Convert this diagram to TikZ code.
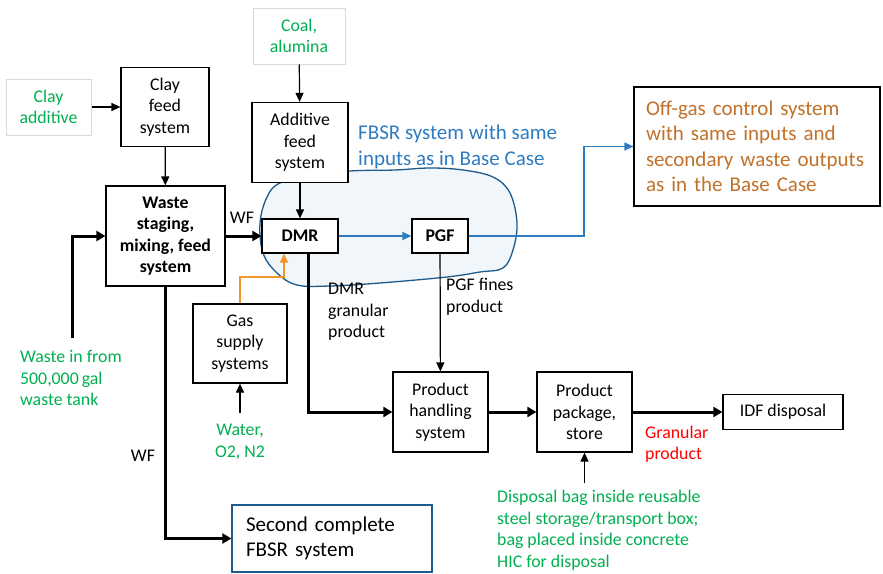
\documentclass[tikz,border=0pt]{standalone}
\usepackage{fontspec}
\setmainfont{Carlito}
\usetikzlibrary{arrows.meta}

\definecolor{ingreen}{HTML}{00B050}
\definecolor{outred}{HTML}{FF0000}
\definecolor{gasorange}{HTML}{F0962C}
\definecolor{offbrown}{HTML}{C0722A}
\definecolor{fbsrblue}{HTML}{2E7BC0}
\definecolor{blobline}{HTML}{1F5A8A}
\definecolor{blobfill}{HTML}{F1F6FB}
\definecolor{inbox}{HTML}{D9D9D9}

\newcommand{\boxtext}{\fontsize{17.8}{21.5}\selectfont}
\newcommand{\bigtext}{\fontsize{21}{25.5}\selectfont}

\begin{document}
\begin{tikzpicture}[x=1pt, y=-1pt,
		box/.style={draw, fill=white, line width=1.2pt, align=center, inner sep=0pt, font=\boxtext},
		inputbox/.style={draw=inbox, fill=white, line width=1pt, align=center, inner sep=0pt, font=\boxtext, text=ingreen},
		note/.style={align=left, inner sep=0pt, anchor=west, font=\boxtext},
		flow/.style={line width=1.2pt, -{Triangle[length=9pt, width=8pt]}},
		thickflow/.style={line width=3pt, -{Triangle[length=9pt, width=10pt]}}]
	\useasboundingbox (0,0) rectangle (883,573);
	
	% FBSR cloud
	\filldraw[fill=blobfill, draw=blobline, line width=1.3pt] plot [smooth cycle, tension=0.6] coordinates {(280,183) (313,176) (350,171) (395,170) (430,168) (463,170) (493,177) (510,193) (517,223) (513,250) (503,268) (480,272) (447,277) (380,283) (330,286) (297,285) (277,273) (263,253) (260,223) (267,197)};
	\node[note, font=\bigtext, text=fbsrblue] (fbsrlabel) at (358,147) {FBSR system with same\\inputs as in Base Case};
	
	% boxes
	\node[inputbox, minimum width=85pt, minimum height=56pt] (clayadd) at (48.5,107) {Clay\\additive};
	\node[box, minimum width=88pt, minimum height=79pt] (clayfeed) at (165,107) {Clay\\feed\\system};
	\node[inputbox, minimum width=92pt, minimum height=56pt] (coal) at (299,36) {Coal,\\alumina};
	\node[box, minimum width=96pt, minimum height=80pt] (addfeed) at (300,142.5) {Additive\\feed\\system};
	\node[box, minimum width=119pt, minimum height=100pt, font=\boxtext\bfseries] (waste) at (165.5,236) {Waste\\staging,\\mixing, feed\\system};
	\node[box, minimum width=76pt, minimum height=34pt, font=\boxtext\bfseries] (dmr) at (300,236) {DMR};
	\node[box, minimum width=56pt, minimum height=34pt, font=\boxtext\bfseries] (pgf) at (440,236) {PGF};
	\node[box, minimum width=246pt, minimum height=119pt, align=left, text width=222pt, font=\bigtext, text=offbrown] (offgas) at (757,146.5) {Off-gas control system\\with same inputs and\\secondary waste outputs\\as in the Base Case};
	\node[box, minimum width=94pt, minimum height=79pt] (gas) at (240,343.5) {Gas\\supply\\systems};
	\node[box, minimum width=95pt, minimum height=80pt] (prodhand) at (440.5,412) {Product\\handling\\system};
	\node[box, minimum width=95pt, minimum height=80pt] (prodpack) at (584.5,412) {Product\\package,\\store};
	\node[box, minimum width=120pt, minimum height=35pt] (idf) at (783,412) {IDF disposal};
	\node[box, draw=blobline, minimum width=200pt, minimum height=67pt, align=left, text width=172pt, font=\bigtext] (second) at (332,538.5) {Second complete\\FBSR system};
	
	% texts
	\node[note, text=ingreen] (wasteintext) at (20,378) {Waste in from\\500,000\,gal\\waste tank};
	\node[align=center, inner sep=0pt, font=\boxtext, text=ingreen] (watertext) at (240,442) {Water,\\O2, N2};
	\node[note, text=ingreen] (bagtext) at (497,530) {Disposal bag inside reusable\\steel storage/transport box;\\bag placed inside concrete\\HIC for disposal};
	\node[note, text=outred] (granular) at (645,444) {Granular\\product};
	\node[note] (dmrprod) at (328,312) {DMR\\granular\\product};
	\node[note] (pgfprod) at (446,297) {PGF fines\\product};
	\node[font=\boxtext, inner sep=0pt] (wf1) at (242,218) {WF};
	\node[font=\boxtext, inner sep=0pt] (wf2) at (143,456) {WF};
	
	% free ends
	\coordinate (wastein) at (72,338);
	\coordinate (waterin) at (240,413);
	\coordinate (bagin) at (584.5,483);
	\coordinate (gasbend) at (284,277);
	\coordinate (offbend) at (584,236);
	
	% connectors
	\draw[flow] (clayadd) -- (clayfeed);
	\draw[flow] (clayfeed) -- (waste);
	\draw[flow] (coal) -- (addfeed);
	\draw[flow] (addfeed) -- (dmr);
	\draw[thickflow] (wastein) |- (waste.west);
	\draw[thickflow] (waste) -- (dmr);
	\draw[thickflow] (waste.south) |- (second.west);
	\draw[flow, gasorange] (gas.north) |- (gasbend) -- (gasbend |- dmr.south);
	\draw[flow] (waterin) -- (gas.south);
	\draw[flow, fbsrblue] (dmr) -- (pgf);
	\draw[flow, fbsrblue] (pgf.east) -- (offbend) |- (offgas.west);
	\draw[thickflow] ([xshift=8pt]dmr.south) |- (prodhand.west);
	\draw[flow] (pgf) -- (prodhand);
	\draw[thickflow] (prodhand) -- (prodpack);
	\draw[thickflow] (prodpack) -- (idf);
	\draw[flow] (bagin) -- (prodpack.south);
\end{tikzpicture}
\end{document}
